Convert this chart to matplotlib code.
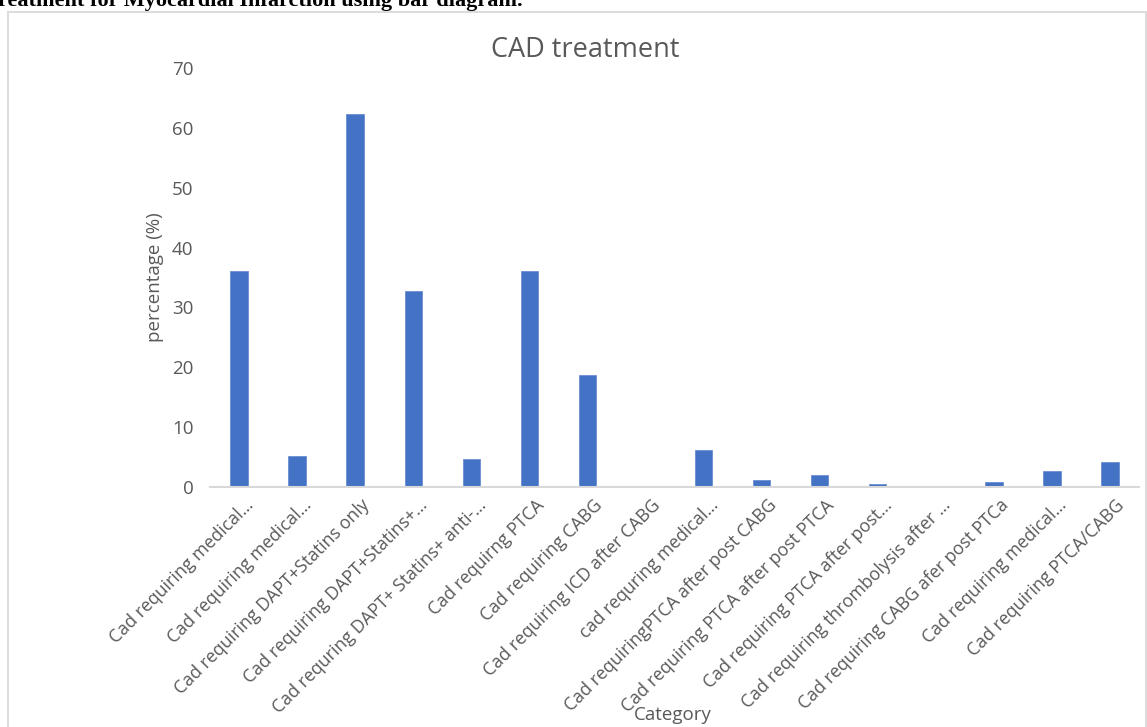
import matplotlib
matplotlib.use("Agg")
import matplotlib.pyplot as plt
from matplotlib.patches import Rectangle
import matplotlib.transforms as mtransforms

plt.rcParams['font.family'] = ['Open Sans', 'DejaVu Sans']

categories = [
    "Cad requiring medical…",
    "Cad requiring medical…",
    "Cad requiring DAPT+Statins only",
    "Cad requiring DAPT+Statins+…",
    "Cad requring DAPT+ Statins+ anti-…",
    "Cad requirng PTCA",
    "Cad requiring CABG",
    "Cad requiring ICD after CABG",
    "cad requring medical…",
    "Cad requiringPTCA after post CABG",
    "Cad requiring PTCA after post PTCA",
    "Cad requiring PTCA after post…",
    "Cad requiring thrombolysis after …",
    "Cad requiring CABG afer post PTCa",
    "Cad requiring medical…",
    "Cad requiring PTCA/CABG",
]
percentages = [36.1, 5.1, 62.3, 32.8, 4.6, 36.1, 18.7, 0.0,
               6.2, 1.1, 2.0, 0.5, 0.0, 0.9, 2.6, 4.2]
yticks = [0, 10, 20, 30, 40, 50, 60, 70]

W, H = 1147, 727
fig = plt.figure(figsize=(W / 100, H / 100), dpi=100)
fig.patch.set_facecolor('white')

# chart frame
fig.patches.append(Rectangle((8 / W, -0.05), (1146 - 8) / W, 1.05 - 12 / H,
                             transform=fig.transFigure, fill=False,
                             edgecolor='#D9D9D9', lw=1.3))

# heading text running above the chart
fig.text(-2 / W, 1 - 6 / H, "reatment for Myocardial Infarction using bar diagram.",
         family=['Liberation Serif'], fontweight='bold', fontsize=16,
         ha='left', va='baseline', color='black')

ax = fig.add_axes([210 / W, 1 - 487 / H, (1139 - 210) / W, (487 - 68) / H])
x = list(range(len(categories)))
ax.bar(x, percentages, width=0.3, color='#4472C4', edgecolor='#6C8FD3', lw=0.6, zorder=2)
ax.set_xlim(-0.5, len(categories) - 0.5)
ax.set_ylim(0, 70)
ax.set_yticks(yticks)
ax.set_yticklabels([str(v) for v in yticks], fontsize=13.5, color='#595959')
ax.tick_params(axis='y', length=0, pad=12)
ax.tick_params(axis='x', length=0, pad=4)

ax.set_xticks(x)
ax.set_xticklabels(categories, rotation=45, ha='right', va='center',
                   rotation_mode='anchor', fontsize=12.8, color='#595959')
offset = mtransforms.ScaledTranslation(12 / 100, -10 / 100, fig.dpi_scale_trans)
for lab in ax.get_xticklabels():
    lab.set_transform(lab.get_transform() + offset)

for s in ['top', 'right', 'left']:
    ax.spines[s].set_visible(False)
ax.spines['bottom'].set_color('#D9D9D9')
ax.spines['bottom'].set_linewidth(1.5)

fig.text(585 / W, 1 - 50 / H, "CAD treatment", fontsize=19.5, color='#595959',
         ha='center', va='center')
fig.text(155 / W, 1 - 277 / H, "percentage (%)", fontsize=13.5, color='#595959',
         rotation=90, ha='center', va='center')
fig.text(673 / W, 1 - 715 / H, "Category", fontsize=13.5, color='#595959',
         ha='center', va='center')

fig.savefig('out.png', dpi=100, facecolor='white')
